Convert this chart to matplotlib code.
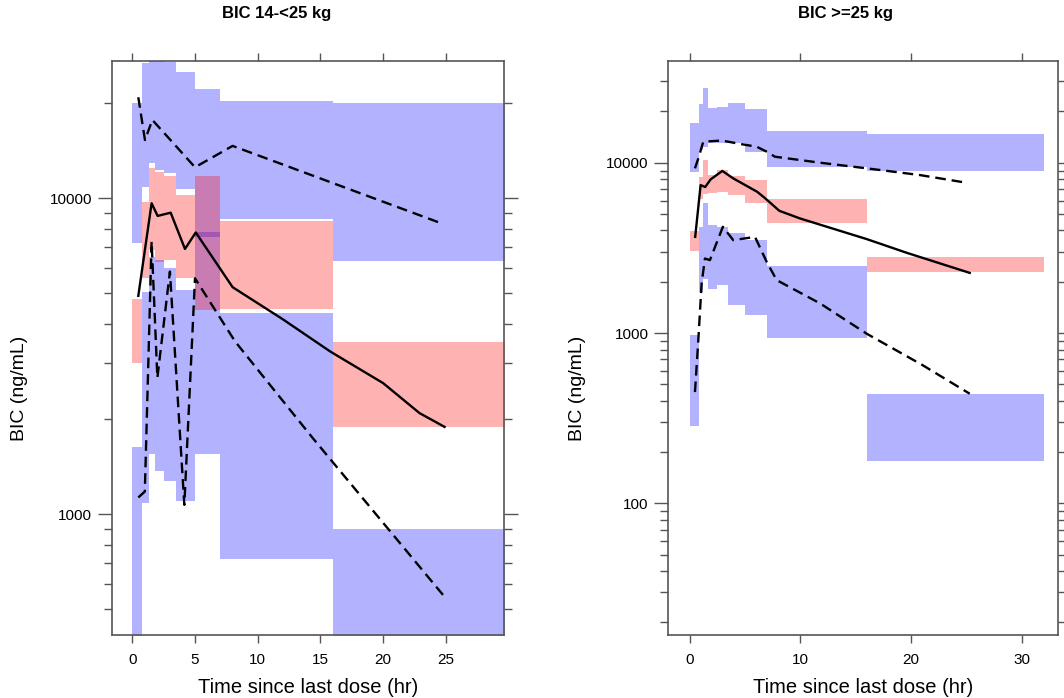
import numpy as np
import matplotlib
matplotlib.use('Agg')
import matplotlib.pyplot as plt
from matplotlib.ticker import LogLocator, FixedLocator, NullFormatter, FuncFormatter

plt.rcParams['font.family'] = ['Liberation Sans', 'DejaVu Sans']

# ---- panel 1: BIC 14-<25 kg ----
bins_a = [0, 0.8, 1.33, 1.8, 2.5, 3.5, 5, 7, 16, 30]
hi_ci_lo_a = [7240, 10880, 12900, 12300, 12000, 10700, 7560, 8600, 6320]
hi_ci_hi_a = [20070, 26700, 27100, 27100, 27000, 25040, 22130, 20310, 20070]
med_ci_lo_a = [3005, 5590, 6860, 6270, 6380, 5580, 4430, 4450, 1891]
med_ci_hi_a = [4790, 9760, 12450, 12100, 11800, 10240, 11760, 8480, 3517]
lo_ci_lo_a = [300, 1082, 1548, 1371, 1273, 1102, 1548, 722, 300]
lo_ci_hi_a = [1630, 5050, 6520, 6380, 6000, 5130, 7840, 4330, 896]

med_t_a = [0.48, 1.54, 2.02, 3.06, 4.2, 5.06, 8.0, 12.0, 15.8, 20.0, 22.9, 24.9]
med_v_a = [4910, 9640, 8790, 9000, 6910, 7790, 5230, 4140, 3270, 2600, 2090, 1890]
p95_t_a = [0.48, 1.01, 1.6, 5.0, 8.0, 24.5]
p95_v_a = [20870, 15280, 17690, 12530, 14640, 8370]
p05_t_a = [0.48, 1.0, 1.54, 2.0, 3.0, 4.15, 5.0, 8.2, 14.4, 24.9]
p05_v_a = [1130, 1180, 7300, 2700, 5860, 1071, 5580, 3520, 1740, 548]

# ---- panel 2: BIC >=25 kg ----
bins_b = [0, 0.8, 1.25, 1.7, 2.5, 3.5, 5, 7, 16, 32]
hi_ci_lo_b = [8850, 11880, 12400, 13000, 13000, 13000, 11610, 9470, 8970]
hi_ci_hi_b = [17190, 22140, 27390, 20900, 21350, 22360, 20600, 15410, 14690]
med_ci_lo_b = [3040, 6090, 6545, 6635, 6750, 6460, 5770, 4436, 2285]
med_ci_hi_b = [3965, 8300, 10350, 8450, 9040, 8350, 7910, 6090, 2800]
lo_ci_lo_b = [283, 1743, 2089, 1825, 1908, 1456, 1280, 931, 178]
lo_ci_hi_b = [978, 4205, 5770, 4300, 4205, 3843, 3510, 2477, 440]

med_t_b = [0.5, 0.99, 1.4, 1.9, 2.95, 3.94, 6.1, 6.8, 8.1, 9.96, 16, 19.6, 25.3]
med_v_b = [3670, 7390, 7200, 7990, 8950, 8090, 6750, 6200, 5220, 4710, 3560, 2960, 2255]
p95_t_b = [0.48, 0.78, 1.23, 2.9, 4.84, 6.05, 6.96, 7.7, 11.8, 16, 20.8, 25.0]
p95_v_b = [9270, 10600, 13290, 13500, 12800, 12420, 11610, 10850, 10000, 9270, 8465, 7630]
p05_t_b = [0.48, 0.78, 1.08, 1.38, 1.83, 3.0, 3.94, 5.9, 6.96, 7.86, 11.8, 16, 21.0, 25.3]
p05_v_b = [450, 906, 1954, 2739, 2680, 4205, 3510, 3670, 2615, 2045, 1490, 990, 650, 440]

edge = '#555555'


def bands(ax, bins, lo, hi, color):
    for i in range(len(lo)):
        ax.fill_between([bins[i], bins[i + 1]], lo[i], hi[i], color=color,
                        alpha=0.3, linewidth=0)


def panel(ax, bins, d, xlim, ylim, xt):
    bands(ax, bins, d[4], d[5], 'blue')
    bands(ax, bins, d[0], d[1], 'blue')
    bands(ax, bins, d[2], d[3], 'red')
    ax.plot(d[6], d[7], color='black', lw=1.7)
    ax.plot(d[8], d[9], color='black', lw=1.7, ls=(0, (4.5, 2.5)))
    ax.plot(d[10], d[11], color='black', lw=1.7, ls=(0, (4.5, 2.5)))
    ax.set_yscale('log')
    ax.set_xlim(*xlim)
    ax.set_ylim(*ylim)
    ax.yaxis.set_major_locator(LogLocator(base=10, numticks=10))
    ax.yaxis.set_minor_locator(LogLocator(base=10, subs=np.arange(2, 10), numticks=20))
    ax.yaxis.set_major_formatter(FuncFormatter(lambda v, p: '%d' % round(v)))
    ax.yaxis.set_minor_formatter(NullFormatter())
    ax.xaxis.set_major_locator(FixedLocator(xt))
    ax.tick_params(axis='y', which='major', length=10, width=1, color=edge,
                   left=True, right=True, labelsize=11, pad=4)
    ax.tick_params(axis='y', which='minor', length=5.5, width=1, color=edge,
                   left=True, right=True)
    ax.tick_params(axis='x', which='major', length=5.8, width=1, color=edge,
                   top=True, bottom=True, labelsize=11, pad=7)
    for s in ax.spines.values():
        s.set_color(edge)
        s.set_linewidth(1.2)
    ax.set_xlabel('Time since last dose (hr)', fontsize=14.5, labelpad=8)


fig = plt.figure(figsize=(10.64, 6.98), dpi=100)
ax1 = fig.add_axes([0.105, 0.0903, 0.3687, 0.8227])
ax2 = fig.add_axes([0.6281, 0.0903, 0.366, 0.8227])

panel(ax1, bins_a, [hi_ci_lo_a, hi_ci_hi_a, med_ci_lo_a, med_ci_hi_a, lo_ci_lo_a, lo_ci_hi_a,
                    med_t_a, med_v_a, p95_t_a, p95_v_a, p05_t_a, p05_v_a],
      (-1.64, 29.64), (415, 27230), [0, 5, 10, 15, 20, 25])
panel(ax2, bins_b, [hi_ci_lo_b, hi_ci_hi_b, med_ci_lo_b, med_ci_hi_b, lo_ci_lo_b, lo_ci_hi_b,
                    med_t_b, med_v_b, p95_t_b, p95_v_b, p05_t_b, p05_v_b],
      (-1.93, 33.25), (16.86, 39720), [0, 10, 20, 30])

fig.text(0.2603, 0.980, 'BIC 14-<25 kg', ha='center', va='center', fontsize=12, fontweight='bold')
fig.text(0.795, 0.980, 'BIC >=25 kg', ha='center', va='center', fontsize=12, fontweight='bold')
fig.text(20 / 1064, 1 - 388 / 698, 'BIC (ng/mL)', rotation=90, ha='center', va='center', fontsize=14)
fig.text(577 / 1064, 1 - 388 / 698, 'BIC (ng/mL)', rotation=90, ha='center', va='center', fontsize=14)

fig.savefig('out.png', dpi=100)
